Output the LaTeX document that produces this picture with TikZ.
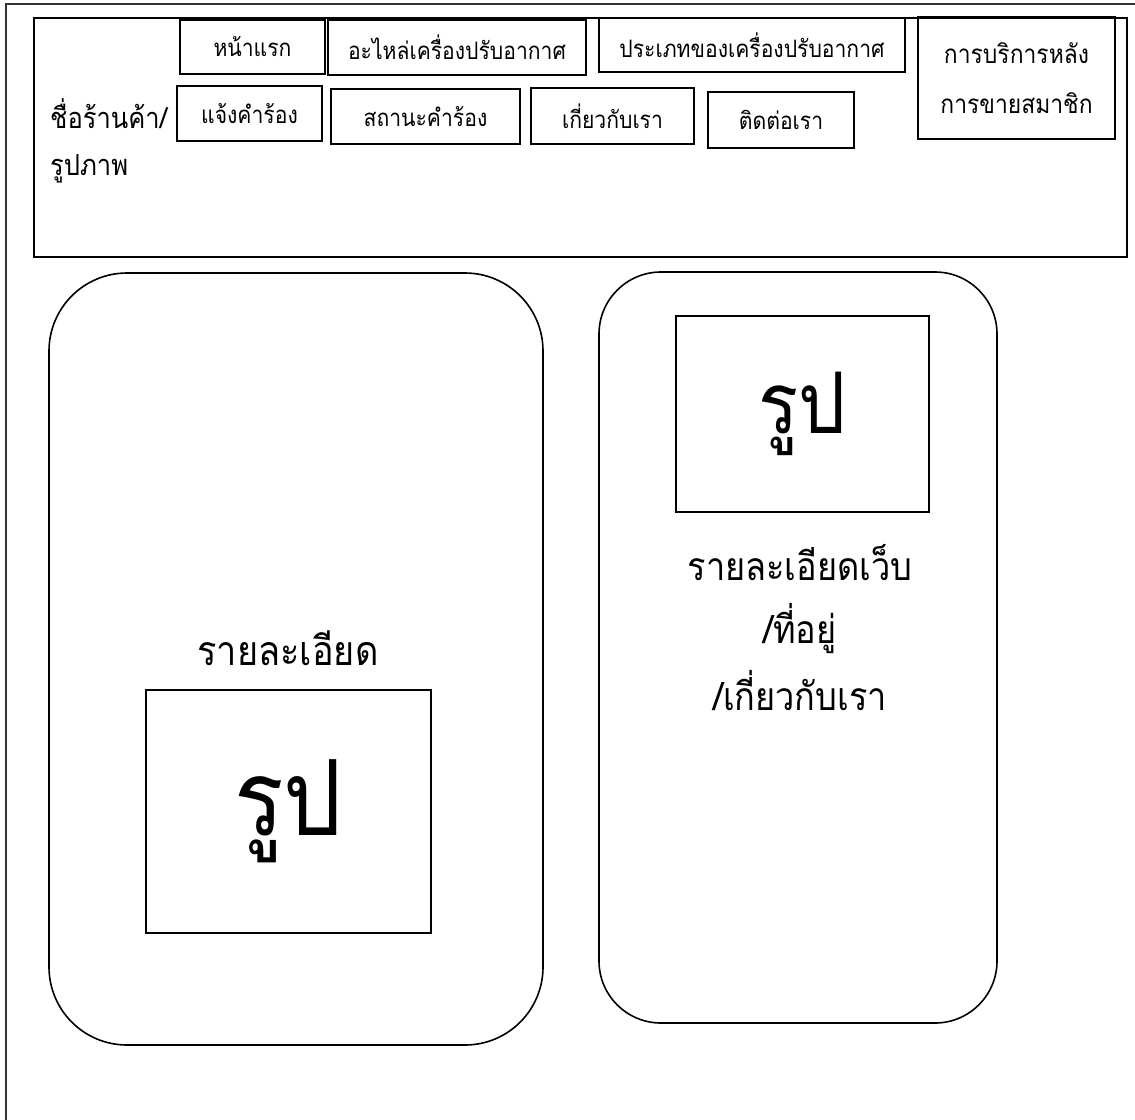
\documentclass[tikz,border=0pt]{standalone}
\usepackage{fontspec}
\newfontfamily\thai[Script=Thai,FakeStretch=0.88]{Loma}
\begin{document}
\begin{tikzpicture}[x=1pt,y=-1pt,
  frame/.style={draw=black!80, line width=1.3pt},
  headbox/.style={draw, line width=2pt},
  navbox/.style={draw, line width=2pt, inner sep=0pt, anchor=north west, align=center,
    font=\thai\fontsize{24}{28}\selectfont},
  panel/.style={draw, line width=1.6pt},
  picbox/.style={draw, line width=1.6pt, inner sep=0pt, anchor=north west},
  lbl/.style={inner sep=0pt, font=\thai\fontsize{39}{44}\selectfont}
]
\useasboundingbox (0,0) rectangle (1135,1119);
% outer frame (only left and top edges visible)
\coordinate (ofb) at (6,1130);
\coordinate (oft) at (6,4);
\coordinate (ofr) at (1145,4);
\draw[frame] (ofb) -- (oft) -- (ofr);
% header
\node[headbox, inner sep=0pt, anchor=north west, minimum width=1093pt, minimum height=239pt] (head) at (33,17) {};
\node[inner sep=0pt, anchor=west, align=left, font=\thai\fontsize{29}{47}\selectfont] (shop) at (50,141) {ชื่อร้านค้า/\\รูปภาพ};
% navigation boxes
\node[navbox, minimum width=145pt, minimum height=54pt] (home) at (179,19) {หน้าแรก};
\node[navbox, minimum width=258pt, minimum height=55pt] (parts) at (327,19) {อะไหล่เครื่องปรับอากาศ};
\node[navbox, minimum width=306pt, minimum height=54pt] (types) at (598,17) {ประเภทของเครื่องปรับอากาศ};
\node[navbox, minimum width=197pt, minimum height=122pt, font=\thai\fontsize{26}{50}\selectfont] (service) at (917,16) {การบริการหลัง\\การขายสมาชิก};
\node[navbox, minimum width=145pt, minimum height=55pt] (report) at (176,85) {แจ้งคำร้อง};
\node[navbox, minimum width=189pt, minimum height=55pt] (status) at (330,88) {สถานะคำร้อง};
\node[navbox, minimum width=163pt, minimum height=56pt] (about) at (530,87) {เกี่ยวกับเรา};
\node[navbox, minimum width=146pt, minimum height=56pt] (contact) at (707,91) {ติดต่อเรา};
% left panel
\draw[panel, rounded corners=78pt] (49,273) rectangle (543,1045);
\node[lbl, font=\thai\fontsize{41}{46}\selectfont] (detail) at (288,648) {รายละเอียด};
\node[picbox, minimum width=285pt, minimum height=243pt, font=\thai\fontsize{105}{120}\selectfont] (pic1) at (145,689) {รูป};
% right panel
\draw[panel, rounded corners=62pt] (599,272) rectangle (997,1023);
\node[picbox, minimum width=253pt, minimum height=196pt, font=\thai\fontsize{85}{96}\selectfont] (pic2) at (675,315) {รูป};
\node[lbl] (web) at (800,563) {รายละเอียดเว็บ};
\node[lbl] (addr) at (800,629) {/ที่อยู่};
\node[lbl] (us) at (800,691) {/เกี่ยวกับเรา};
\end{tikzpicture}
\end{document}
